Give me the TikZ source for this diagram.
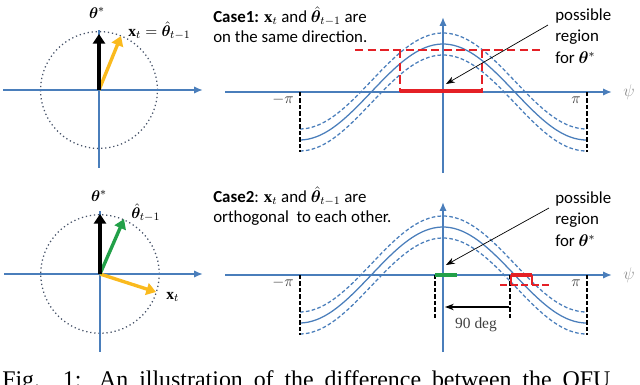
\documentclass[tikz,border=0pt]{standalone}
\usepackage{fontspec}
\usepackage{bm}
\setmainfont{Liberation Serif}
\setsansfont{Carlito}
\usetikzlibrary{arrows.meta}

\definecolor{axisblue}{RGB}{74,126,187}
\definecolor{regred}{RGB}{228,32,38}
\definecolor{xgold}{RGB}{250,186,30}
\definecolor{thgreen}{RGB}{34,160,72}
\definecolor{ringgray}{RGB}{70,82,104}

\begin{document}
\begin{tikzpicture}[
  x=0.025cm,y=-0.025cm,
  axisline/.style={draw=axisblue,line width=1.3pt},
  axisarrow/.style={axisline,-{Latex[length=2.2mm,width=1.8mm]}},
  ring/.style={draw=ringgray,line width=0.9pt,dotted},
  vecarrow/.style={line width=2.4pt,-{Triangle[length=2.4mm,width=3mm]}},
  sinecurve/.style={draw=axisblue,line width=0.9pt},
  dashcurve/.style={sinecurve,dash pattern=on 2.6pt off 1.6pt},
  pimark/.style={draw=black,line width=1.3pt,dash pattern=on 3pt off 1.6pt},
  thres/.style={draw=regred,line width=1.7pt,dash pattern=on 6pt off 3pt},
  hitbar/.style={line width=3.4pt},
  pointer/.style={draw=black,line width=0.5pt,-{Stealth[length=2.2mm,width=1.6mm]}},
  casetext/.style={font=\sffamily\fontsize{12}{13.5}\selectfont,anchor=north west,
    align=left,inner sep=0pt},
  regiontext/.style={font=\sffamily\fontsize{12}{15.6}\selectfont,anchor=north west,
    align=left,inner sep=0pt},
  mathlabel/.style={font=\fontsize{11}{13}\selectfont,inner sep=0pt}
]
  \useasboundingbox (0,0) rectangle (640,384);
  \clip (0,0) rectangle (640,384);

  % left column: unit circles with the vectors
  \coordinate (oa) at (99,90);
  \coordinate (ob) at (100,274);
  \draw[ring] (oa) circle [radius=1.46cm];
  \draw[ring] (ob) circle [radius=1.48cm];
  \draw[axisarrow] (3,90) -- (203,90);
  \draw[axisline] (99,30) -- (99,168);
  \draw[axisarrow] (4,274) -- (203,274);
  \draw[axisline] (100,211) -- (100,352);

  \coordinate (tha) at (99,34);
  \coordinate (xa) at (121,36);
  \draw[vecarrow,xgold] (oa) -- (xa);
  \draw[vecarrow,black,line width=2.8pt] (oa) -- (tha);
  \node[mathlabel] (thlaba) at (97,13) {$\bm\theta^*$};
  \node[mathlabel,anchor=west] (xlaba) at (128,31) {$\mathbf{x}_t=\hat{\bm\theta}_{t-1}$};

  \coordinate (thb) at (100,214);
  \coordinate (hb) at (124,219);
  \coordinate (xb) at (156,292);
  \draw[vecarrow,xgold] (ob) -- (xb);
  \draw[vecarrow,thgreen] (ob) -- (hb);
  \draw[vecarrow,black,line width=2.8pt] (ob) -- (thb);
  \node[mathlabel] (thlabb) at (99,196) {$\bm\theta^*$};
  \node[mathlabel,anchor=west] (hlabb) at (131,213) {$\hat{\bm\theta}_{t-1}$};
  \node[mathlabel,anchor=west] (xlabb) at (166,297) {$\mathbf{x}_t$};

  % right column: the shifted cosines
  \foreach \ay in {92,275} {
    \draw[axisarrow] (225,\ay) -- (612,\ay);
    \draw[sinecurve] plot[domain=300:587,samples=70,smooth]
      (\x,{\ay-48*cos((\x-443)/143.5*180)});
    \draw[dashcurve] plot[domain=300:587,samples=70,smooth]
      (\x,{\ay-11-48*cos((\x-443)/143.5*180)});
    \draw[dashcurve] plot[domain=300:587,samples=70,smooth]
      (\x,{\ay+11-48*cos((\x-443)/143.5*180)});
    \draw[pimark] (300,\ay) -- (300,\ay+60);
    \draw[pimark] (587,\ay) -- (587,\ay+60);
    \node[mathlabel,text=black!75] at (283,\ay+8) {$-\pi$};
    \node[mathlabel,text=black!75] at (576,\ay+8) {$\pi$};
    \node[mathlabel,text=black!45,font=\fontsize{13}{15}\selectfont] at (629,\ay) {$\psi$};
  }
  \draw[axisarrow] (443,173) -- (443,17);
  \draw[axisarrow] (443,352) -- (443,202);

  % Case 1
  \node[casetext] (casea) at (213,6)
    {\textbf{Case1:} $\mathbf{x}_t$ and $\hat{\bm\theta}_{t-1}$ are\\[1pt]on the same direction.};
  \draw[thres] (355,50) -- (540,50);
  \draw[thres] (400,50) -- (400,92);
  \draw[thres] (482,50) -- (482,92);
  \draw[hitbar,regred] (400,91) -- (483,91);
  \node[regiontext] (rega) at (555,8) {possible\\region\\for $\bm\theta^*$};
  \coordinate (pa) at (548,25);
  \coordinate (ta) at (446,84);
  \draw[pointer] (pa) -- (ta);

  % Case 2
  \node[casetext] (caseb) at (213,186)
    {\textbf{Case2}: $\mathbf{x}_t$ and $\hat{\bm\theta}_{t-1}$ are\\[1pt]orthogonal\ \ to each other.};
  \draw[pimark] (435,275) -- (435,318);
  \draw[pimark] (510,275) -- (510,318);
  \draw[hitbar,thgreen] (435,275) -- (457,275);
  \draw[thres,line width=1.3pt,dash pattern=on 5pt off 2.5pt] (500,285) -- (549,285);
  \draw[regred,line width=1.3pt] (511,275) -- (511,285);
  \draw[regred,line width=1.3pt] (532,275) -- (532,285);
  \draw[hitbar,regred,line width=2.6pt] (511,275) -- (532,275);
  \coordinate (da) at (509,307);
  \coordinate (db) at (445,307);
  \draw[pointer,line width=0.8pt] (da) -- (db);
  \node[font=\fontsize{11}{13}\selectfont,text=black!75] (deg) at (476,325) {90 deg};
  \node[regiontext] (regb) at (555,191) {possible\\region\\for $\bm\theta^*$};
  \coordinate (pb) at (549,208);
  \coordinate (tb) at (446,265);
  \draw[pointer] (pb) -- (tb);

  % caption, cut by the page edge
  \node[anchor=base west,inner sep=0pt,font=\fontsize{17}{20}\selectfont] (cap) at (2,387)
    {\makebox[15.2cm][s]{Fig. 1: An illustration of the difference between the OFU}};
\end{tikzpicture}
\end{document}
